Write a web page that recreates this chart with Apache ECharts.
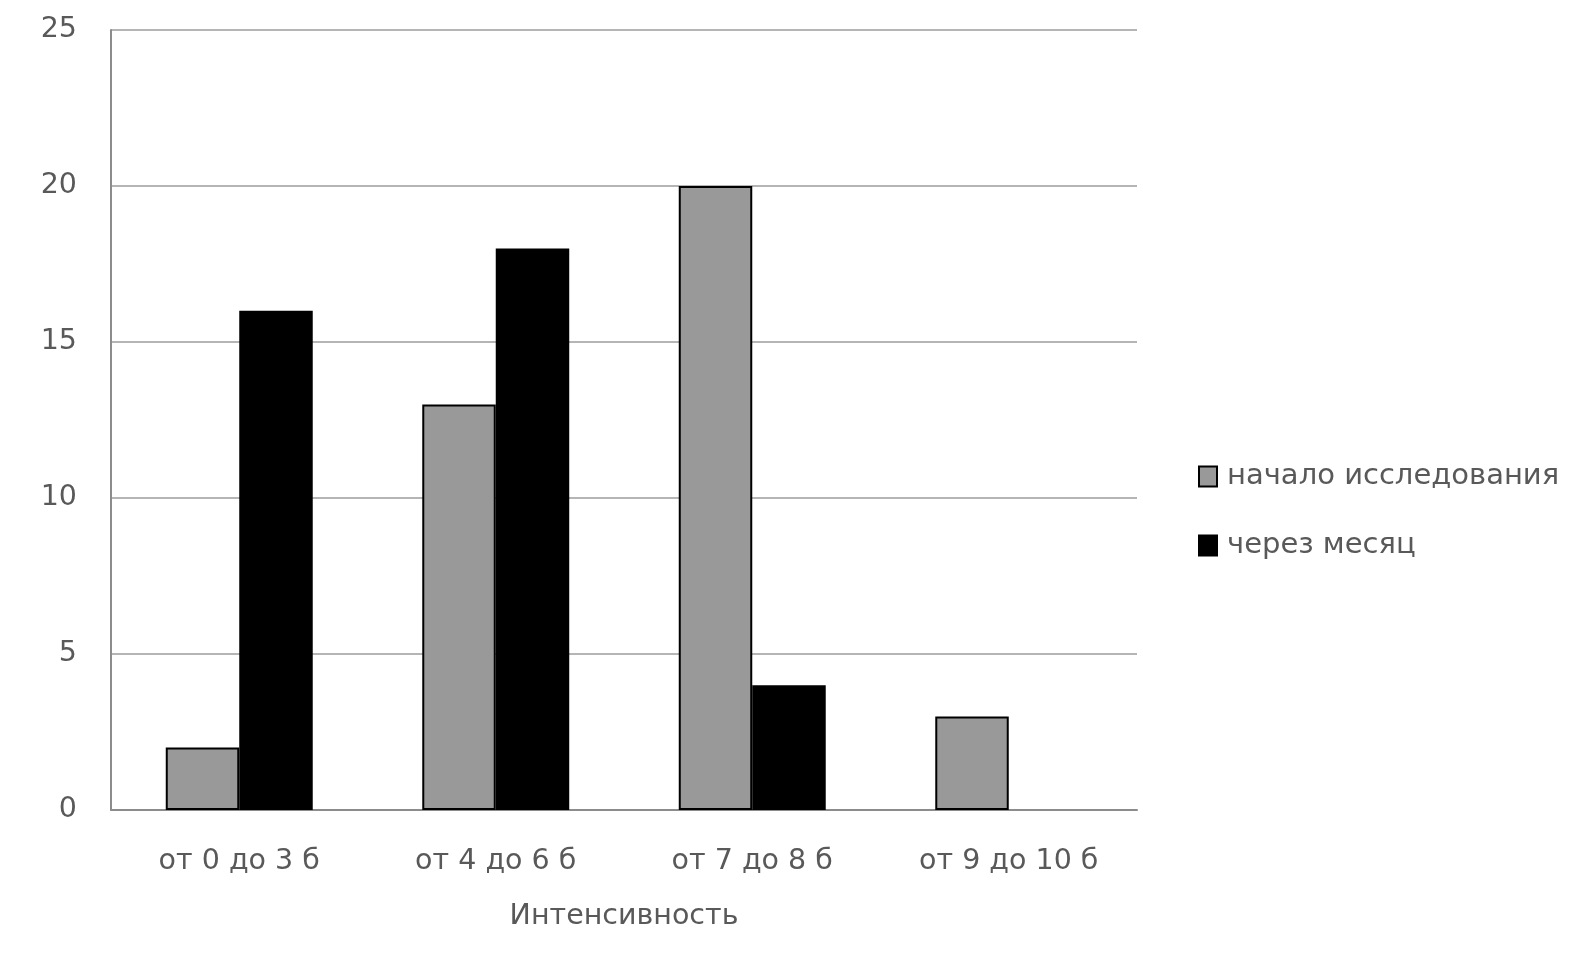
<!DOCTYPE html>
<html><head><meta charset="utf-8">
<script src="https://cdn.jsdelivr.net/npm/echarts@6/dist/echarts.min.js"></script>
<style>html,body{margin:0;padding:0;background:#fff}#c{width:1594px;height:980px}</style>
</head><body><div id="c"></div>
<script>
const categories = ['от 0 до 3 б', 'от 4 до 6 б', 'от 7 до 8 б', 'от 9 до 10 б'];
const seriesNames = ['начало исследования', 'через месяц'];
const startValues = [2, 13, 20, 3];
const monthValues = [16, 18, 4, 0];
const axisTitle = 'Интенсивность';

const font = 'DejaVu Sans';
const txt = '#595959';
const noZeroBorder = arr => arr.map(v => v === 0 ? { value: v, itemStyle: { borderWidth: 0 } } : v);
const chart = echarts.init(document.getElementById('c'));
chart.setOption({
  animation: false,
  backgroundColor: '#fff',
  grid: { left: 111, right: 457, top: 30, bottom: 170, containLabel: false },
  legend: {
    orient: 'vertical', left: 1193, top: 457, itemGap: 40,
    itemWidth: 18, itemHeight: 20, icon: 'rect',
    textStyle: { fontFamily: font, fontSize: 29, color: txt, padding: [0,0,0,5] },
    data: seriesNames
  },
  xAxis: {
    type: 'category', data: categories,
    axisLine: { lineStyle: { color: '#8c8c8c', width: 2 } },
    axisTick: { show: false },
    axisLabel: { fontFamily: font, fontSize: 28.5, color: txt, margin: 37 },
    name: axisTitle, nameLocation: 'middle', nameGap: 92,
    nameTextStyle: { fontFamily: font, fontSize: 28.5, color: txt }
  },
  yAxis: {
    type: 'value', min: 0, max: 25, interval: 5,
    axisLine: { show: true, lineStyle: { color: '#8c8c8c', width: 2 } },
    axisTick: { show: false },
    axisLabel: { fontFamily: font, fontSize: 28.5, color: txt, margin: 34, padding: [7,0,0,0] },
    splitLine: { lineStyle: { color: '#b5b5b5', width: 2 } }
  },
  series: [
    { name: seriesNames[0], type: 'bar', data: noZeroBorder(startValues), barGap: '0%', barCategoryGap: '42.7%',
      itemStyle: { color: '#999999', borderColor: '#000', borderWidth: 2 } },
    { name: seriesNames[1], type: 'bar', data: noZeroBorder(monthValues),
      itemStyle: { color: '#000000', borderColor: '#000', borderWidth: 2 } }
  ]
});
</script></body></html>
